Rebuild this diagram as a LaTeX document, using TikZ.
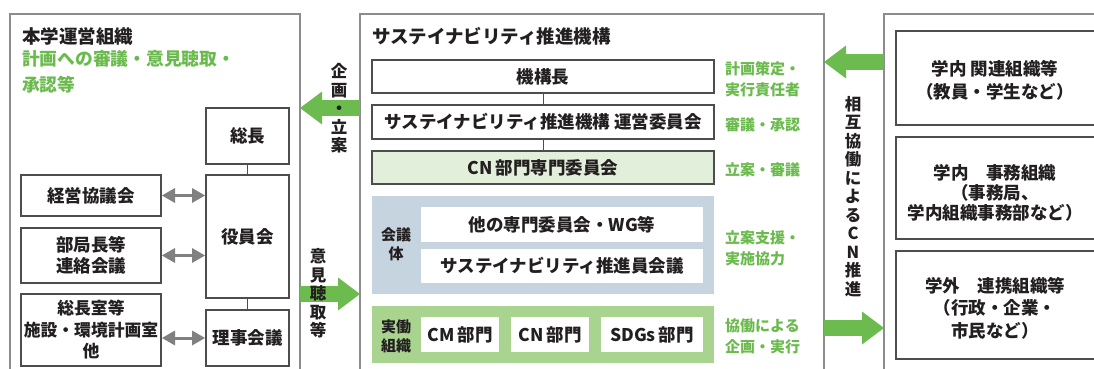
\documentclass[tikz,border=0pt]{standalone}
\usepackage{fontspec}
\setmainfont{Noto Sans CJK JP}
\usetikzlibrary{arrows.meta}
\definecolor{framec}{HTML}{8C8C8C}
\definecolor{boxln}{HTML}{4D4D4D}
\definecolor{txt}{HTML}{231F20}
\definecolor{grn}{HTML}{6CBB4E}
\definecolor{grntxt}{HTML}{6ABA4D}
\definecolor{ltgrn}{HTML}{E2EFDA}
\definecolor{midgrn}{HTML}{A9D490}
\definecolor{bluegray}{HTML}{C6D4DF}
\definecolor{arrgray}{HTML}{808080}
\tikzset{
  frameline/.style={draw=framec, line width=1.3pt},
  box/.style={draw=boxln, line width=1.3pt, fill=white, inner sep=0pt, outer sep=0pt,
    align=center, text=txt, font=\bfseries\fontsize{17.5}{20.5}\selectfont},
  plainbox/.style={box, draw=none},
  region/.style={inner sep=0pt, outer sep=0pt},
  titletext/.style={anchor=west, inner sep=0pt, text=txt, font=\bfseries\fontsize{18.5}{22}\selectfont},
  greentext/.style={anchor=west, inner sep=0pt, text=grntxt, align=left, font=\bfseries\fontsize{17.75}{26}\selectfont},
  sidelabel/.style={anchor=west, inner sep=0pt, text=grntxt, align=left, font=\bfseries\fontsize{15}{21}\selectfont},
  grouplabel/.style={inner sep=0pt, text=txt, align=center, font=\bfseries\fontsize{15}{19}\selectfont},
  vtext/.style={inner sep=0pt, text=txt, align=center, font=\bfseries\fontsize{16.5}{18.5}\selectfont},
  link/.style={draw=boxln, line width=1pt},
  bigarr/.style={draw=grn, line width=16pt, -{Triangle[length=22pt,width=33pt,line width=0pt]}},
  grayarr/.style={draw=arrgray, line width=3pt,
    {Triangle[length=13pt,width=15pt,line width=0pt]}-{Triangle[length=13pt,width=15pt,line width=0pt]}},
}
\begin{document}
\begin{tikzpicture}[x=1pt,y=-1pt]
\useasboundingbox (0,0) rectangle (1094,369);
\clip (0,0) rectangle (1094,369);

% frames
\node[frameline, region, anchor=north west, minimum width=290pt, minimum height=380pt] (L) at (10,14) {};
\node[frameline, region, anchor=north west, minimum width=464pt, minimum height=380pt] (M) at (360,14) {};
\node[frameline, region, anchor=north west, minimum width=300pt, minimum height=380pt] (R) at (884,14) {};

% left frame content
\node[titletext] (ltitle) at (22,36) {本学運営組織};
\node[greentext, anchor=north west] (lgreen) at (22,50) {計画への審議・意見聴取・\\承認等};

\node[box, minimum width=83pt, minimum height=56pt] (sou) at (247.5,136) {総長};
\node[box, minimum width=83pt, minimum height=123pt] (yaku) at (247.5,236.5) {役員会};
\node[box, minimum width=83pt, minimum height=56pt] (riji) at (247.5,338) {理事会議};
\node[box, minimum width=140pt, minimum height=41pt] (keiei) at (91,195.5) {経営協議会};
\node[box, minimum width=140pt, minimum height=55pt] (bukyoku) at (91,255.5) {部局長等\\連絡会議};
\node[box, minimum width=140pt, minimum height=72pt, font=\bfseries\fontsize{16.8}{21.5}\selectfont] (soucho) at (91,330) {総長室等\\施設・環境計画室\\他};

\draw[link] (sou) -- (yaku);
\draw[link] (yaku) -- (riji);
\draw[grayarr, shorten <=1pt, shorten >=1pt] (keiei.east) -- (keiei.east -| yaku.west);
\draw[grayarr, shorten <=1pt, shorten >=1pt] (bukyoku.east) -- (bukyoku.east -| yaku.west);
\draw[grayarr, shorten <=1pt, shorten >=1pt] (riji.west -| soucho.east) -- (riji.west);

% arrows between left and middle
\coordinate (ya) at (0,108);
\coordinate (yb) at (0,294);
\draw[bigarr] (M.west |- ya) -- (L.east |- ya);
\draw[bigarr] (L.east |- yb) -- (M.west |- yb);
\node[vtext] (kikaku) at (339,108.5) {企\\画\\・\\立\\案};
\node[vtext] (iken) at (318,293.5) {意\\見\\聴\\取\\等};

% middle frame content
\node[titletext] (mtitle) at (372,36) {サステイナビリティ推進機構};
\node[box, minimum width=342pt, minimum height=33pt] (kikou) at (543,76.5) {機構長};
\node[box, minimum width=342pt, minimum height=34pt] (unei) at (543,122) {サステイナビリティ推進機構 運営委員会};
\node[box, fill=ltgrn, minimum width=342pt, minimum height=33pt] (cn) at (543,167.5) {CN\kern3pt 部門専門委員会};
\draw[link] (kikou) -- (unei);
\draw[link] (unei) -- (cn);

\node[region, fill=bluegray, minimum width=342pt, minimum height=98pt] (kaigi) at (543,245) {};
\node[grouplabel] (kaigilbl) at (396,244.5) {会議\\体};
\node[plainbox, minimum width=282pt, minimum height=35pt] (other) at (562,224.5) {他の専門委員会・WG等};
\node[plainbox, minimum width=282pt, minimum height=34pt] (suishin) at (562,266) {サステイナビリティ推進員会議};

\node[region, fill=midgrn, minimum width=342pt, minimum height=57pt] (jitsu) at (543,334.5) {};
\node[grouplabel] (jitsulbl) at (396,336) {実働\\組織};
\node[plainbox, minimum width=78pt, minimum height=35pt] (cm) at (460,334.5) {CM\kern3pt 部門};
\node[plainbox, minimum width=78pt, minimum height=35pt] (cnb) at (550,334.5) {CN\kern3pt 部門};
\node[plainbox, minimum width=102pt, minimum height=35pt] (sdgs) at (652,334.5) {SDGs\kern3pt 部門};

\node[sidelabel] (l1) at (725,79) {計画策定・\\実行責任者};
\node[sidelabel] (l2) at (725,125) {審議・承認};
\node[sidelabel] (l3) at (725,170) {立案・審議};
\node[sidelabel] (l4) at (725,248) {立案支援・\\実施協力};
\node[sidelabel] (l5) at (725,336) {協働による\\企画・実行};

% arrows between middle and right
\coordinate (yc) at (0,62);
\coordinate (yd) at (0,328);
\draw[bigarr] (R.west |- yc) -- (M.east |- yc);
\draw[bigarr] (M.east |- yd) -- (R.west |- yd);
\node[vtext] (sougo) at (853,196.5) {相\\互\\協\\働\\に\\よ\\る\\C\\N\\推\\進};

% right frame content
\node[plainbox, fill=none, minimum width=198pt, minimum height=94pt] (r1) at (995,78) {};
\node[plainbox, fill=none, minimum width=198pt, minimum height=102pt] (r2) at (995,188) {};
\node[plainbox, fill=none, minimum width=198pt, minimum height=108pt] (r3) at (995,305) {};
\foreach \r in {r1,r2,r3}{
  \draw[draw=boxln, line width=1.3pt] ([xshift=30pt]\r.north east) -- (\r.north west) -- (\r.south west) -- ([xshift=30pt]\r.south east);
}
\node[plainbox, fill=none, font=\bfseries\fontsize{17.5}{23}\selectfont] (t1) at (995,80) {学内 関連組織等\\（教員・学生など）};
\node[plainbox, fill=none, font=\bfseries\fontsize{17.5}{20}\selectfont] (t2) at (995,193) {学内　事務組織\\（事務局、\\学内組織事務部など）};
\node[plainbox, fill=none, font=\bfseries\fontsize{17.5}{22.5}\selectfont] (t3) at (995,308) {学外　連携組織等\\（行政・企業・\\市民など）};
\end{tikzpicture}
\end{document}
